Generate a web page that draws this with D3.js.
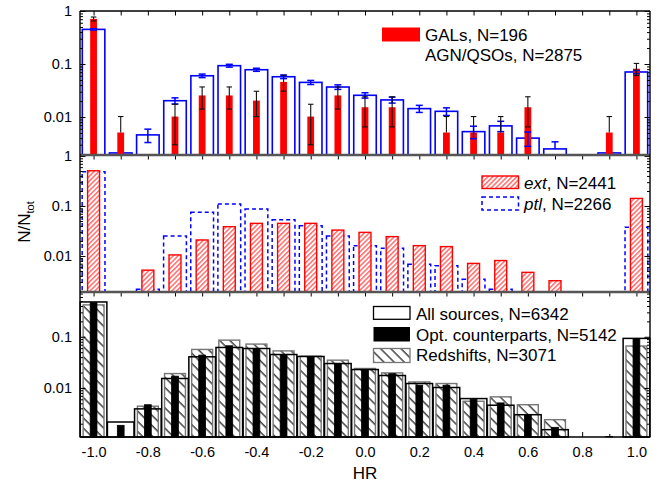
<!DOCTYPE html>
<html><head><meta charset="utf-8">
<script src="https://cdn.jsdelivr.net/npm/d3@7"></script>
<style>body{margin:0;background:#fff}svg{display:block;font-family:"Liberation Sans",Arial,sans-serif}</style>
</head><body><div id="chart"></div>
<script>
// ---------- DATA ----------
const hrBins = [-1.0,-0.9,-0.8,-0.7,-0.6,-0.5,-0.4,-0.3,-0.2,-0.1,0.0,0.1,0.2,0.3,0.4,0.5,0.6,0.7,0.8,0.9,1.0];
const xTickLabels = ["-1.0","-0.8","-0.6","-0.4","-0.2","0.0","0.2","0.4","0.6","0.8","1.0"];
const xTickValues = [-1.0,-0.8,-0.6,-0.4,-0.2,0.0,0.2,0.4,0.6,0.8,1.0];
// top panel
const agnFrac = [0.45,0.0021,0.0046,0.0203,0.060,0.093,0.078,0.0575,0.045,0.0368,0.0257,0.021,0.0144,0.0128,0.0053,0.0068,0.0040,0.0025,null,0.0021,0.0707];
const agnErr  = [0.0125,null,0.0013,0.0027,0.0046,0.0057,0.0052,0.0045,0.004,0.0036,0.003,0.0027,0.0022,0.0021,0.0014,0.0015,0.0012,0.0009,null,null,0.005];
const galFrac = [0.71,0.0051,null,0.0102,0.0255,0.0255,0.0204,0.046,0.0102,0.0255,0.0153,0.0153,null,0.0051,0.0051,0.0051,0.0153,null,null,0.0051,0.0816];
const galErr  = [0.06,0.0051,null,0.0072,0.0114,0.0114,0.0102,0.0153,0.0072,0.0114,0.0088,0.0088,null,0.0051,0.0051,0.0051,0.0088,null,null,0.0051,0.021];
// middle panel
const extFrac = [0.508,0.0019,0.0052,0.0105,0.0209,0.0386,0.045,0.045,0.045,0.033,0.0297,0.0244,0.0161,0.0154,0.0071,0.0081,0.0047,0.0032,null,0.0019,0.142];
const ptlFrac = [0.486,0.0019,0.00215,0.0251,0.0747,0.110,0.087,0.0533,0.0404,0.0251,0.0161,0.0142,0.0068,0.0064,0.0034,0.00215,0.0019,null,null,null,0.0375];
// bottom panel
const allFrac = [0.479,0.00216,0.0039,0.0153,0.0406,0.0618,0.059,0.045,0.0412,0.030,0.0229,0.0175,0.0122,0.0102,0.0062,0.0046,0.0030,0.00153,null,null,0.093];
const optFrac = [0.465,0.00186,0.0047,0.017,0.0438,0.0667,0.059,0.045,0.041,0.030,0.0229,0.019,0.0113,0.0113,0.006,0.0051,0.003,0.0017,null,0.00112,0.093];
const zFrac   = [0.42,null,0.0044,0.0191,0.0566,0.086,0.072,0.053,0.0418,0.0349,0.024,0.0197,0.0131,0.0122,0.0055,0.0067,0.0047,0.0024,null,null,0.066];
const legendTop = ["GALs, N=196","AGN/QSOs, N=2875"];
const legendMidName = ["ext","ptl"];
const legendMidN = [", N=2441",", N=2266"];
const legendBot = ["All sources, N=6342","Opt. counterparts, N=5142","Redshifts, N=3071"];

// ---------- LAYOUT ----------
const W=670,H=486, L=80, R=650;
const svg = d3.select("#chart").append("svg").attr("width",W).attr("height",H);
const defs = svg.append("defs");
const p1 = defs.append("pattern").attr("id","redHatch").attr("patternUnits","userSpaceOnUse")
  .attr("width",3.4).attr("height",3.4).attr("patternTransform","rotate(45)");
p1.append("rect").attr("width",3.4).attr("height",3.4).attr("fill","#fff");
p1.append("line").attr("x1",0.8).attr("y1",0).attr("x2",0.8).attr("y2",3.4).attr("stroke","#f22").attr("stroke-width",1);
const p2 = defs.append("pattern").attr("id","blackHatch").attr("patternUnits","userSpaceOnUse")
  .attr("width",7.2).attr("height",7.2).attr("patternTransform","rotate(-45)");
p2.append("line").attr("x1",1).attr("y1",0).attr("x2",1).attr("y2",7.2).attr("stroke","#000").attr("stroke-width",1.1);

const x = d3.scaleLinear().domain([-1.05,1.05]).range([L,R]);
const yTop = d3.scaleLog().domain([0.00192,1]).range([155,11]);
const yMid = d3.scaleLog().domain([0.0019,1.05]).range([292,155]);
const yBot = d3.scaleLog().domain([0.0011,0.75]).range([437,292]);

function idx(arr){ return hrBins.map((h,i)=>({h, v:arr[i], i})).filter(d=>d.v!=null); }
function bars(g, arr, y, w, attrs){
  const sel = g.selectAll(null).data(idx(arr)).enter().append("rect")
    .attr("x", d=>x(d.h - w/2)).attr("width", x(w)-x(0))
    .attr("y", d=>Math.min(y(d.v), y.range()[0]))
    .attr("height", d=>Math.max(0, y.range()[0]-y(d.v)));
  for (const k in attrs) sel.attr(k, attrs[k]);
  return sel;
}
function errbars(g, arr, err, y, cap, color, sw){
  idx(arr).forEach(d=>{
    const e = err[d.i]; if(e==null) return;
    const cx = x(d.h);
    const hi = y(d.v+e);
    const lowV = d.v-e;
    const lo = lowV>y.domain()[0]*1.0001 ? y(lowV) : null;
    const yLo = lo==null ? y(d.v) : lo;
    g.append("line").attr("x1",cx).attr("x2",cx).attr("y1",hi).attr("y2",yLo).attr("stroke",color).attr("stroke-width",sw);
    g.append("line").attr("x1",cx-cap/2).attr("x2",cx+cap/2).attr("y1",hi).attr("y2",hi).attr("stroke",color).attr("stroke-width",sw);
    if(lo!=null) g.append("line").attr("x1",cx-cap/2).attr("x2",cx+cap/2).attr("y1",lo).attr("y2",lo).attr("stroke",color).attr("stroke-width",sw);
  });
}

// ---------- TOP PANEL ----------
const gT = svg.append("g");
bars(gT, agnFrac, yTop, 0.083, {fill:"none", stroke:"#00f", "stroke-width":1.6});
bars(gT, galFrac, yTop, 0.025, {fill:"#f00", stroke:"none"});
errbars(gT, agnFrac, agnErr, yTop, 7, "#00f", 1.5);
errbars(gT, galFrac, galErr, yTop, 5.5, "#111", 1.1);

// ---------- MIDDLE PANEL ----------
const gM = svg.append("g");
bars(gM, ptlFrac, yMid, 0.084, {fill:"none", stroke:"#00f", "stroke-width":1.5, "stroke-dasharray":"4,3"});
bars(gM, extFrac, yMid, 0.044, {fill:"url(#redHatch)", stroke:"#f00", "stroke-width":1.4});

// ---------- BOTTOM PANEL ----------
const gB = svg.append("g");
bars(gB, allFrac, yBot, 0.098, {fill:"#fff", stroke:"none"});
bars(gB, zFrac, yBot, 0.077, {fill:"url(#blackHatch)", stroke:"#777", "stroke-width":1.4});
bars(gB, allFrac, yBot, 0.098, {fill:"none", stroke:"#000", "stroke-width":1.5});
bars(gB, optFrac, yBot, 0.025, {fill:"#000", stroke:"#000", "stroke-width":0.8});

// ---------- AXES ----------
function minorLog(y){
  const [a,b]=y.domain(); const out=[];
  for(let e=-4;e<=0;e++) for(let m=1;m<10;m++){const v=m*Math.pow(10,e); if(v>=a&&v<=b) out.push(v);}
  return out;
}
const panels = [
  {y:yTop, majors:[1,0.1,0.01], labels:["1","0.1","0.01"]},
  {y:yMid, majors:[1,0.1,0.01], labels:["1","0.1","0.01"]},
  {y:yBot, majors:[0.1,0.01], labels:["0.1","0.01"]}
];
panels.forEach(p=>{
  const minors = minorLog(p.y).filter(v=>!p.majors.some(m=>Math.abs(m-v)<1e-12));
  const gl = svg.append("g").attr("transform",`translate(${L},0)`);
  gl.call(d3.axisLeft(p.y).tickValues(minors).tickSizeInner(-3).tickSizeOuter(0).tickFormat(""));
  const glM = svg.append("g").attr("transform",`translate(${L},0)`);
  glM.call(d3.axisLeft(p.y).tickValues(p.majors).tickSizeInner(-5.5).tickSizeOuter(0).tickPadding(8)
    .tickFormat((d,i)=>p.labels[i]));
  const gr = svg.append("g").attr("transform",`translate(${R},0)`);
  gr.call(d3.axisRight(p.y).tickValues(minors).tickSizeInner(-3).tickSizeOuter(0).tickFormat(""));
  const grM = svg.append("g").attr("transform",`translate(${R},0)`);
  grM.call(d3.axisRight(p.y).tickValues(p.majors).tickSizeInner(-5.5).tickSizeOuter(0).tickFormat(""));
  [gl,glM,gr,grM].forEach(g=>{g.select(".domain").remove(); g.selectAll("line").attr("stroke","#000").attr("stroke-width",1);});
  glM.selectAll("text").attr("font-size",14.5).attr("font-family",'"Liberation Sans",Arial,sans-serif').attr("fill","#000");
});
// horizontal tick rows
[11,155,292].forEach(yy=>{
  const g = svg.append("g").attr("transform",`translate(0,${yy})`);
  g.call(d3.axisBottom(x).tickValues(hrBins).tickSizeInner(4.5).tickSizeOuter(0).tickFormat(""));
  g.select(".domain").remove(); g.selectAll("line").attr("stroke","#000").attr("stroke-width",1);
});
const gx = svg.append("g").attr("transform","translate(0,437)");
gx.call(d3.axisBottom(x).tickValues(xTickValues).tickSizeInner(-5).tickSizeOuter(0).tickPadding(10)
  .tickFormat((d,i)=>xTickLabels[i]));
gx.select(".domain").remove();
gx.selectAll("line").attr("stroke","#000").attr("stroke-width",1);
gx.selectAll("text").attr("font-size",14.5).attr("font-family",'"Liberation Sans",Arial,sans-serif').attr("fill","#000");
const gx2 = svg.append("g").attr("transform","translate(0,437)");
gx2.call(d3.axisBottom(x).tickValues(hrBins.filter((h,i)=>i%2==1)).tickSizeInner(-3).tickSizeOuter(0).tickFormat(""));
gx2.select(".domain").remove(); gx2.selectAll("line").attr("stroke","#000");

// frame
svg.append("line").attr("x1",L).attr("x2",R).attr("y1",11).attr("y2",11).attr("stroke","#000").attr("stroke-width",1.3);
svg.append("line").attr("x1",L).attr("x2",R).attr("y1",437).attr("y2",437).attr("stroke","#000").attr("stroke-width",1.6);
[155,292].forEach(yy=>svg.append("line").attr("x1",L).attr("x2",R).attr("y1",yy).attr("y2",yy).attr("stroke","#555").attr("stroke-width",2.4));
svg.append("line").attr("x1",L).attr("x2",L).attr("y1",11).attr("y2",437).attr("stroke","#000").attr("stroke-width",1.4);
svg.append("line").attr("x1",R).attr("x2",R).attr("y1",11).attr("y2",437).attr("stroke","#000").attr("stroke-width",1.4);

// axis titles
svg.append("text").attr("x",365).attr("y",479).attr("text-anchor","middle").attr("font-size",17).text("HR");
const yl = svg.append("text").attr("transform","translate(30,222) rotate(-90)").attr("text-anchor","middle").attr("font-size",17);
yl.append("tspan").text("N/N");
yl.append("tspan").attr("font-size",11).attr("dy",4).text("tot");

// ---------- LEGENDS ----------
const fs=17;
svg.append("rect").attr("x",382).attr("y",27.5).attr("width",38).attr("height",14).attr("fill","#f00");
svg.append("text").attr("x",425).attr("y",40.5).attr("font-size",fs).text(legendTop[0]);
svg.append("text").attr("x",425).attr("y",60.5).attr("font-size",fs).text(legendTop[1]);

svg.append("rect").attr("x",482).attr("y",176).attr("width",36.5).attr("height",12.5).attr("fill","url(#redHatch)").attr("stroke","#f00").attr("stroke-width",1.4);
svg.append("rect").attr("x",482).attr("y",197).attr("width",36.5).attr("height",13).attr("fill","none").attr("stroke","#00f").attr("stroke-width",1.5).attr("stroke-dasharray","4,3");
[188.5,209.5].forEach((yy,i)=>{
  const t = svg.append("text").attr("x",524).attr("y",yy).attr("font-size",fs);
  t.append("tspan").attr("font-style","italic").text(legendMidName[i]);
  t.append("tspan").text(legendMidN[i]);
});

svg.append("rect").attr("x",373.5).attr("y",306.5).attr("width",36.5).attr("height",12.8).attr("fill","#fff").attr("stroke","#000").attr("stroke-width",1.3);
svg.append("rect").attr("x",373.5).attr("y",327).attr("width",36.5).attr("height",14.5).attr("fill","#000");
svg.append("rect").attr("x",373.5).attr("y",348.5).attr("width",36.5).attr("height",14).attr("fill","url(#blackHatch)").attr("stroke","#777").attr("stroke-width",1.3);
[320,340.5,361].forEach((yy,i)=>svg.append("text").attr("x",416).attr("y",yy).attr("font-size",fs).text(legendBot[i]));
</script></body></html>
